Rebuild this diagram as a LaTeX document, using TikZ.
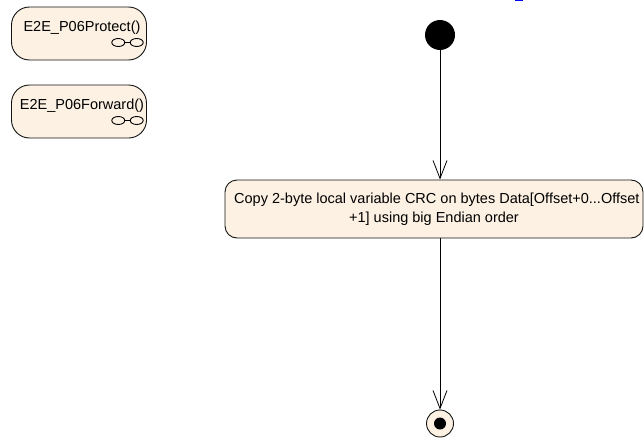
\documentclass[tikz,border=0pt]{standalone}
\usepackage{fontspec}
\setmainfont{Liberation Sans}
\usetikzlibrary{arrows.meta}
\definecolor{fillc}{RGB}{252,241,227}
\definecolor{linec}{RGB}{20,20,20}
\begin{document}
\begin{tikzpicture}[x=1pt,y=-1pt,
  txt/.style={inner sep=0pt,font=\fontsize{14.5}{16}\selectfont},
  statebox/.style={draw=linec,line width=0.9pt,fill=fillc,rounded corners=18pt,minimum width=135pt,minimum height=53pt,inner sep=0pt},
  actbox/.style={draw=linec,line width=0.9pt,fill=fillc,rounded corners=12pt,minimum width=418pt,minimum height=58pt,inner sep=0pt},
  icon/.style={line width=0.9pt},
  flow/.style={line width=0.8pt,-{Straight Barb[length=18pt,width=14pt]}}]
\useasboundingbox (0,0) rectangle (644,439);
% activity references
\node[statebox] (p1) at (79,33.5) {};
\node[txt] (p1t) at (82,28) {E2E\_P06Protect()};
\draw[icon] (118.3,42.5) ellipse (6.5 and 4) (124.8,42.5) -- (130.2,42.5) (136.7,42.5) ellipse (6.5 and 4);
\node[statebox] (p2) at (79,111.5) {};
\node[txt] (p2t) at (82,106) {E2E\_P06Forward()};
\draw[icon] (118.3,120.5) ellipse (6.5 and 4) (124.8,120.5) -- (130.2,120.5) (136.7,120.5) ellipse (6.5 and 4);
% blue fragment
\fill[blue] (515,0) rectangle (523,1);
% initial
\node[circle,fill=black,minimum size=30pt,inner sep=0pt] (init) at (440,35) {};
% action
\node[actbox] (act) at (434,209) {};
\begin{scope}
\clip[rounded corners=12pt] (act.south west) rectangle (act.north east);
\node[txt,anchor=west] (actt1) at (234,200) {Copy 2-byte local variable CRC on bytes Data[Offset+0...Offset};
\end{scope}
\node[txt] (actt2) at (434,219) {+1] using big Endian order};
% final
\node[circle,draw=linec,line width=0.9pt,fill=fillc,minimum size=27pt,inner sep=0pt] (fin) at (440,423.5) {};
\fill[black] (fin.center) circle (6);
% flows
\draw[flow] (init) -- (init |- act.north);
\draw[flow] (init |- act.south) -- (fin);
\end{tikzpicture}
\end{document}
